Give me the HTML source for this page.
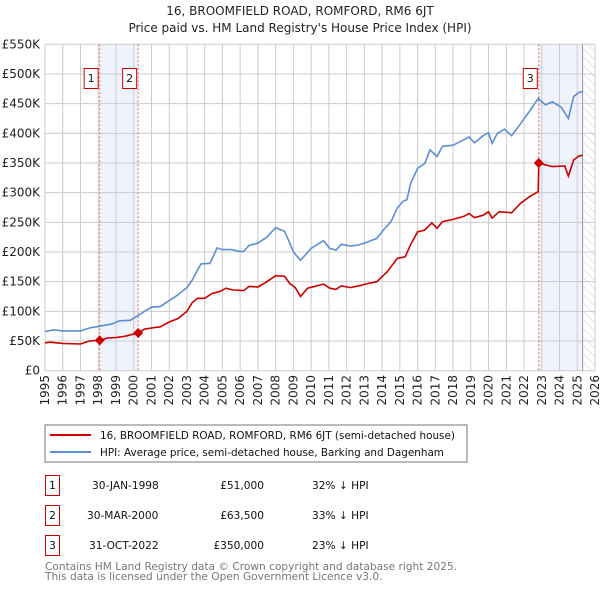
<!DOCTYPE html>
<html><head><meta charset="utf-8"><style>
body{margin:0;background:#fff;font-family:"Liberation Sans","DejaVu Sans",sans-serif;}
svg text{font-family:"DejaVu Sans","Liberation Sans",sans-serif;}
</style></head><body>
<svg id="c" width="600" height="590" viewBox="0 0 600 590">
<defs><pattern id="hatch" width="6" height="6" patternUnits="userSpaceOnUse" patternTransform="rotate(-45)"><line x1="0" y1="0" x2="0" y2="6" stroke="#ccc" stroke-width="1"/></pattern></defs>
<text x="300" y="15" text-anchor="middle" font-size="12" fill="#222">16, BROOMFIELD ROAD, ROMFORD, RM6 6JT</text>
<text x="300" y="32" text-anchor="middle" font-size="12" fill="#222">Price paid vs. HM Land Registry's House Price Index (HPI)</text>
<g id="plot"></g>
<rect x="45" y="425" width="422" height="37" fill="#fff" stroke="#777"/>
<line x1="50" y1="435" x2="91" y2="435" stroke="#cc0000" stroke-width="2"/>
<text x="100" y="439" font-size="10.4" fill="#111">16, BROOMFIELD ROAD, ROMFORD, RM6 6JT (semi-detached house)</text>
<line x1="50" y1="452" x2="91" y2="452" stroke="#5b8fd4" stroke-width="2"/>
<text x="100" y="456" font-size="10.4" fill="#111">HPI: Average price, semi-detached house, Barking and Dagenham</text>
<g font-size="10.6" fill="#111">
<rect x="45.5" y="475.5" width="14" height="20" fill="none" stroke="#cc0000"/><text x="52.5" y="489" text-anchor="middle">1</text>
<text x="92" y="489">30-JAN-1998</text><text x="264" y="489" text-anchor="end">£51,000</text><text x="312" y="489">32% ↓ HPI</text>
<rect x="45.5" y="505.5" width="14" height="20" fill="none" stroke="#cc0000"/><text x="52.5" y="519" text-anchor="middle">2</text>
<text x="87" y="519">30-MAR-2000</text><text x="264" y="519" text-anchor="end">£63,500</text><text x="312" y="519">33% ↓ HPI</text>
<rect x="45.5" y="535.5" width="14" height="20" fill="none" stroke="#cc0000"/><text x="52.5" y="549" text-anchor="middle">3</text>
<text x="89" y="549">31-OCT-2022</text><text x="264" y="549" text-anchor="end">£350,000</text><text x="312" y="549">23% ↓ HPI</text>
</g>
<text x="45" y="570" font-size="10.6" fill="#777">Contains HM Land Registry data © Crown copyright and database right 2025.</text>
<text x="45" y="580" font-size="10.6" fill="#777">This data is licensed under the Open Government Licence v3.0.</text>
</svg>
<script>
const yTicks=[0,50000,100000,150000,200000,250000,300000,350000,400000,450000,500000,550000];
const yTickLabels=["£0","£50K","£100K","£150K","£200K","£250K","£300K","£350K","£400K","£450K","£500K","£550K"];
const xYears=[1995,1996,1997,1998,1999,2000,2001,2002,2003,2004,2005,2006,2007,2008,2009,2010,2011,2012,2013,2014,2015,2016,2017,2018,2019,2020,2021,2022,2023,2024,2025,2026];
const hpiT=[1995,1995.5,1996,1997,1997.5,1998.1,1998.8,1999.2,1999.8,2000.2,2000.6,2001,2001.5,2002,2002.5,2003,2003.3,2003.6,2003.8,2004.3,2004.7,2005,2005.5,2006,2006.2,2006.5,2007,2007.5,2008,2008.5,2008.8,2009,2009.4,2010,2010.7,2011.05,2011.4,2011.7,2012.2,2012.7,2013.2,2013.7,2014.1,2014.5,2014.85,2015.2,2015.4,2015.6,2016,2016.4,2016.7,2017.1,2017.4,2018,2018.6,2018.9,2019.2,2019.7,2020,2020.2,2020.5,2020.9,2021.3,2021.8,2022.3,2022.8,2023.2,2023.6,2024.1,2024.5,2024.8,2025.1,2025.3];
const hpiV=[66,69,67,67,72,75,79,84,85,92,100,107,108,118,128,140,153,170,180,181,207,204,204,201,201,211,215,225,241,235,215,200,186,206,219,206,203,213,210,212,217,223,238,251,274,286,288,315,341,349,372,361,378,380,389,394,384,396,401,383,400,407,396,416,437,459,448,453,444,425,462,469,470];
const paidT=[1995,1995.3,1996,1997,1997.5,1998.08,1998.5,1999,1999.5,2000.25,2000.6,2001,2001.5,2002,2002.5,2003,2003.3,2003.6,2004,2004.4,2004.9,2005.2,2005.6,2006.2,2006.5,2007,2007.4,2008,2008.5,2008.8,2009.1,2009.4,2009.8,2010.7,2011.05,2011.4,2011.7,2012.2,2012.7,2013.2,2013.7,2014.3,2014.85,2015.3,2015.6,2016,2016.4,2016.8,2017.1,2017.4,2018,2018.6,2018.9,2019.2,2019.7,2020,2020.2,2020.6,2021.3,2021.8,2022.3,2022.8,2022.83,2023.2,2023.6,2024.3,2024.5,2024.8,2025.1,2025.3];
const paidV=[47,48,46,45,50,51,55,56,58,63.5,70,72,74,82,88,100,115,122,122,130,134,139,136,135,142,141,148,160,159,147,140,125,139,146,139,137,143,140,143,147,150,167,189,192,212,234,237,249,240,251,255,260,265,258,262,268,257,268,266,282,293,302,350,347,344,345,328,355,362,363];
const saleT=[1998.08,2000.25,2022.83];
const saleV=[51,63.5,350];
const saleLabels=["1","2","3"];
const X0=45,X1=595,Y0=370.7,Y1=44.3;
const xs=t=>X0+(t-1995)/(2026-1995)*(X1-X0);
const ys=v=>Y0-v/550000*(Y0-Y1);
const NS="http://www.w3.org/2000/svg";
const g=document.getElementById('plot');
function mk(tag,a,parent){const e=document.createElementNS(NS,tag);for(const k in a)e.setAttribute(k,a[k]);(parent||g).appendChild(e);return e;}
let e;
e=mk('rect',{x:xs(saleT[0]),y:Y1,width:xs(saleT[1])-xs(saleT[0]),height:Y0-Y1,fill:'#eef3fc'});


e=mk('rect',{x:xs(saleT[2]),y:Y1,width:xs(2025.3)-xs(saleT[2]),height:Y0-Y1,fill:'#eef3fc'});


e=mk('rect',{x:xs(2025.3),y:Y1,width:X1-xs(2025.3),height:Y0-Y1,fill:'url(#hatch)'});


yTicks.forEach((v,i)=>{
 e=mk('line',{x1:X0,x2:X1,y1:ys(v),y2:ys(v),stroke:'#ccc','stroke-width':1});
 
 
 e=mk('text',{x:40,y:ys(v)+4,'text-anchor':'end','font-size':12,fill:'#222'});
 e.textContent=yTickLabels[i];
 
 
});
xYears.forEach(yr=>{
 e=mk('line',{x1:xs(yr),x2:xs(yr),y1:Y1,y2:Y0,stroke:'#ccc','stroke-width':1});
 
 
 e=mk('text',{x:0,y:0,'text-anchor':'end','font-size':12,fill:'#222',transform:`translate(${xs(yr)+4},375) rotate(-90)`});
 e.textContent=yr;
 
 
});
e=mk('line',{x1:xs(2025.3),x2:xs(2025.3),y1:Y1,y2:Y0,stroke:'#999','stroke-width':1});


saleT.forEach((t,i)=>{
 e=mk('line',{x1:xs(t),x2:xs(t),y1:Y1,y2:Y0,stroke:'#f06060','stroke-width':1,'stroke-dasharray':'2,2'});
 
 
});
function path(T,V){return T.map((t,i)=>(i?'L':'M')+xs(t).toFixed(1)+','+ys(V[i]*1000).toFixed(1)).join('');}
e=mk('path',{d:path(hpiT,hpiV),fill:'none',stroke:'#5b8fd4','stroke-width':1.6});


e=mk('path',{d:path(paidT,paidV),fill:'none',stroke:'#cc0000','stroke-width':1.6});


saleT.forEach((t,i)=>{
 const cx=xs(t),cy=ys(saleV[i]*1000);
 e=mk('path',{d:`M${cx},${cy-5}L${cx+5},${cy}L${cx},${cy+5}L${cx-5},${cy}Z`,fill:'#cc0000'});
 
 
 e=mk('rect',{x:cx-15.5,y:68.5,width:14,height:20,fill:'#fff',stroke:'#cc0000'});
 
 
 e=mk('text',{x:cx-8.5,y:82,'text-anchor':'middle','font-size':11,fill:'#111'});
 e.textContent=saleLabels[i];
 
 
});
</script>
</body></html>
